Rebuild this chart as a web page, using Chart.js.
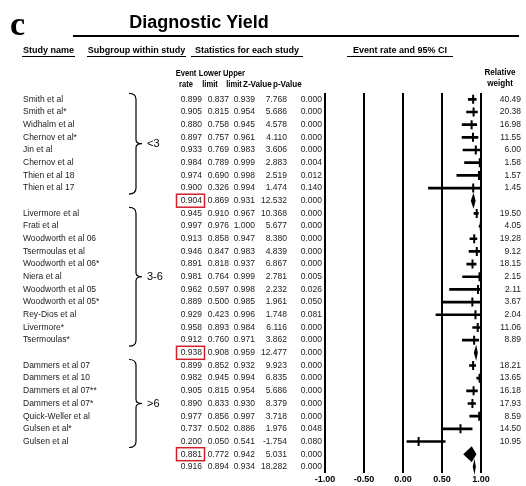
<!DOCTYPE html>
<html>
<head>
<meta charset="utf-8">
<script src="https://cdn.jsdelivr.net/npm/chart.js@4.4.1/dist/chart.umd.min.js"></script>
<style>
  html, body { margin: 0; padding: 0; background: #fff; }
  #wrap { position: relative; width: 526px; height: 486px; }
</style>
</head>
<body>
<div id="wrap"><canvas id="forest" width="526" height="486"></canvas></div>
<script>
// rows of the table, top to bottom ('' = subtotal / overall rows)
const studyNames = [
  'Smith et al', 'Smith et al*', 'Widhalm et al', 'Chernov et al*', 'Jin et al',
  'Chernov et al', 'Thien et al 18', 'Thien et al 17', '',
  'Livermore et al', 'Frati et al', 'Woodworth et al 06', 'Tsermoulas et al',
  'Woodworth et al 06*', 'Niera et al', 'Woodworth et al 05', 'Woodworth et al 05*',
  'Rey-Dios et al', 'Livermore*', 'Tsermoulas*', '',
  'Dammers et al 07', 'Dammers et al 10', 'Dammers et al 07**', 'Dammers et al 07*',
  'Quick-Weller et al', 'Gulsen et al*', 'Gulsen et al', '', ''
];
const eventRate = [
  0.899, 0.905, 0.880, 0.897, 0.933, 0.984, 0.974, 0.900, 0.904,
  0.945, 0.997, 0.913, 0.946, 0.891, 0.981, 0.962, 0.889, 0.929, 0.958, 0.912, 0.938,
  0.899, 0.982, 0.905, 0.890, 0.977, 0.737, 0.200, 0.881, 0.916
];
const lowerLimit = [
  0.837, 0.815, 0.758, 0.757, 0.769, 0.789, 0.690, 0.326, 0.869,
  0.910, 0.976, 0.858, 0.847, 0.818, 0.764, 0.597, 0.500, 0.423, 0.893, 0.760, 0.908,
  0.852, 0.945, 0.815, 0.833, 0.856, 0.502, 0.050, 0.772, 0.894
];
const upperLimit = [
  0.939, 0.954, 0.945, 0.961, 0.983, 0.999, 0.998, 0.994, 0.931,
  0.967, 1.000, 0.947, 0.983, 0.937, 0.999, 0.998, 0.985, 0.996, 0.984, 0.971, 0.959,
  0.932, 0.994, 0.954, 0.930, 0.997, 0.886, 0.541, 0.942, 0.934
];
const zValue = [
  7.768, 5.686, 4.578, 4.110, 3.606, 2.883, 2.519, 1.474, 12.532,
  10.368, 5.677, 8.380, 4.839, 6.867, 2.781, 2.232, 1.961, 1.748, 6.116, 3.862, 12.477,
  9.923, 6.835, 5.686, 8.379, 3.718, 1.976, -1.754, 5.031, 18.282
];
const pValue = [
  0.000, 0.000, 0.000, 0.000, 0.000, 0.004, 0.012, 0.140, 0.000,
  0.000, 0.000, 0.000, 0.000, 0.000, 0.005, 0.026, 0.050, 0.081, 0.000, 0.000, 0.000,
  0.000, 0.000, 0.000, 0.000, 0.000, 0.048, 0.080, 0.000, 0.000
];
const relWeight = [
  40.49, 20.38, 16.98, 11.55, 6.00, 1.58, 1.57, 1.45, null,
  19.50, 4.05, 19.28, 9.12, 18.15, 2.15, 2.11, 3.67, 2.04, 11.06, 8.89, null,
  18.21, 13.65, 16.18, 17.93, 8.59, 14.50, 10.95, null, null
];
const subgroupNames = ['<3', '3-6', '>6'];
const subgroupFirst = [0, 9, 21];
const subgroupLast = [7, 19, 27];
const summaryRows = [8, 20, 28, 29];
const boxedRows = [8, 20, 28];
const xTicks = [-1, -0.5, 0, 0.5, 1];

const rowKeys = studyNames.map((n, i) => n || 'row' + i);
const isSummary = i => summaryRows.indexOf(i) >= 0;

const FONT = '"Liberation Sans", Arial, sans-serif';

// squeezed text for the narrow column headers
function narrowText(ctx, text, x, y, sx) {
  ctx.save();
  ctx.translate(x, y);
  ctx.scale(sx, 1);
  ctx.fillText(text, 0, 0);
  ctx.restore();
}

// table text, brackets and header drawn around the plot area
const tablePlugin = {
  id: 'tableText',
  afterDraw(chart) {
    const ctx = chart.ctx;
    const y = chart.scales.y;
    const rowY = i => y.getPixelForValue(i);
    ctx.save();

    // panel letter + title
    ctx.fillStyle = '#000';
    ctx.font = 'bold 34px "Liberation Serif", "DejaVu Serif", serif';
    ctx.textBaseline = 'alphabetic';
    ctx.textAlign = 'left';
    ctx.fillText('c', 10, 35);
    ctx.font = 'bold 18px ' + FONT;
    ctx.textAlign = 'center';
    ctx.fillText('Diagnostic Yield', 199, 28);
    ctx.fillRect(73, 35, 446, 2);

    // column group headers
    ctx.font = 'bold 9px ' + FONT;
    ctx.textBaseline = 'middle';
    const heads = [['Study name', 22, 75], ['Subgroup within study', 87, 186],
                   ['Statistics for each study', 191, 303], ['Event rate and 95% CI', 347, 453]];
    heads.forEach(h => {
      ctx.textAlign = 'center';
      ctx.fillText(h[0], (h[1] + h[2]) / 2, 51);
      ctx.fillRect(h[1], 56, h[2] - h[1], 1);
    });
    ctx.font = 'bold 9.5px ' + FONT;
    const sub = [['Event', 'rate', 186], ['Lower', 'limit', 210], ['Upper', 'limit', 234]];
    sub.forEach(s => {
      narrowText(ctx, s[0], s[2], 73, 0.8);
      narrowText(ctx, s[1], s[2], 84, 0.8);
    });
    ctx.textAlign = 'left';
    narrowText(ctx, 'Z-Value', 243, 84, 0.85);
    narrowText(ctx, 'p-Value', 273, 84, 0.85);
    ctx.font = 'bold 9px ' + FONT;
    ctx.textAlign = 'center';
    narrowText(ctx, 'Relative', 500, 73, 0.9);
    narrowText(ctx, 'weight', 500, 84, 0.9);

    // rows
    ctx.font = '8.5px ' + FONT;
    ctx.fillStyle = '#222';
    for (let i = 0; i < eventRate.length; i++) {
      const py = rowY(i);
      ctx.textAlign = 'left';
      if (studyNames[i]) ctx.fillText(studyNames[i], 23, py);
      ctx.textAlign = 'right';
      ctx.fillText(eventRate[i].toFixed(3), 202, py);
      ctx.fillText(lowerLimit[i].toFixed(3), 229, py);
      ctx.fillText(upperLimit[i].toFixed(3), 255, py);
      ctx.fillText(zValue[i].toFixed(3), 287, py);
      ctx.fillText(pValue[i].toFixed(3), 322, py);
      if (relWeight[i] != null) ctx.fillText(relWeight[i].toFixed(2), 521, py);
    }

    // red boxes on subgroup event rates
    ctx.strokeStyle = '#d0202a';
    ctx.lineWidth = 1.5;
    boxedRows.forEach(i => {
      const py = rowY(i);
      ctx.strokeRect(176.5, py - 6.5, 28, 13);
    });

    // subgroup braces
    ctx.strokeStyle = '#000';
    ctx.fillStyle = '#000';
    ctx.lineWidth = 1.2;
    ctx.font = '11px ' + FONT;
    ctx.textAlign = 'left';
    for (let g = 0; g < subgroupNames.length; g++) {
      const top = rowY(subgroupFirst[g]) - 6;
      const bot = rowY(subgroupLast[g]) + 6;
      const mid = (top + bot) / 2;
      const x0 = 129, x1 = 136, x2 = 142;
      ctx.beginPath();
      ctx.moveTo(x0, top);
      ctx.quadraticCurveTo(x1, top, x1, top + 6);
      ctx.lineTo(x1, mid - 4);
      ctx.quadraticCurveTo(x1, mid, x2, mid);
      ctx.quadraticCurveTo(x1, mid, x1, mid + 4);
      ctx.lineTo(x1, bot - 6);
      ctx.quadraticCurveTo(x1, bot, x0, bot);
      ctx.stroke();
      ctx.fillText(subgroupNames[g], 147, mid);
    }
    ctx.restore();
  }
};

// diamonds for subtotals and the overall estimate
const diamondPlugin = {
  id: 'diamonds',
  afterDatasetsDraw(chart) {
    const ctx = chart.ctx;
    const x = chart.scales.x, y = chart.scales.y;
    ctx.save();
    ctx.fillStyle = '#000';
    summaryRows.forEach(i => {
      const py = y.getPixelForValue(i);
      ctx.beginPath();
      ctx.moveTo(x.getPixelForValue(lowerLimit[i]), py);
      ctx.lineTo(x.getPixelForValue(eventRate[i]), py - 8);
      ctx.lineTo(x.getPixelForValue(upperLimit[i]), py);
      ctx.lineTo(x.getPixelForValue(eventRate[i]), py + 8);
      ctx.closePath();
      ctx.fill();
    });
    ctx.restore();
  }
};

const config = {
  type: 'bar',
  data: {
    labels: rowKeys,
    datasets: [
      {
        // 95% CI
        type: 'bar',
        data: eventRate.map((v, i) => isSummary(i) ? null : [lowerLimit[i], upperLimit[i]]),
        backgroundColor: '#000',
        barThickness: 2,
        order: 2
      },
      {
        // event rate tick
        type: 'line',
        data: eventRate.map((v, i) => isSummary(i) ? null : v),
        showLine: false,
        pointStyle: 'line',
        rotation: 90,
        pointRadius: 4.5,
        pointBorderWidth: 2,
        borderColor: '#000',
        backgroundColor: '#000',
        order: 1
      }
    ]
  },
  options: {
    indexAxis: 'y',
    responsive: false,
    animation: false,
    events: [],
    layout: { padding: { left: 325, right: 45, top: 93, bottom: 0 } },
    plugins: { legend: { display: false }, tooltip: { enabled: false } },
    scales: {
      x: {
        type: 'linear',
        min: -1,
        max: 1,
        afterBuildTicks: axis => { axis.ticks = xTicks.map(v => ({ value: v })); },
        ticks: {
          color: '#000',
          padding: 1,
          font: { family: FONT, size: 9, weight: 'bold' },
          callback: v => v.toFixed(2)
        },
        grid: { color: '#000', lineWidth: 2, drawTicks: false },
        border: { display: false }
      },
      y: { display: false }
    }
  },
  plugins: [tablePlugin, diamondPlugin]
};

new Chart(document.getElementById('forest').getContext('2d'), config);
</script>
</body>
</html>
